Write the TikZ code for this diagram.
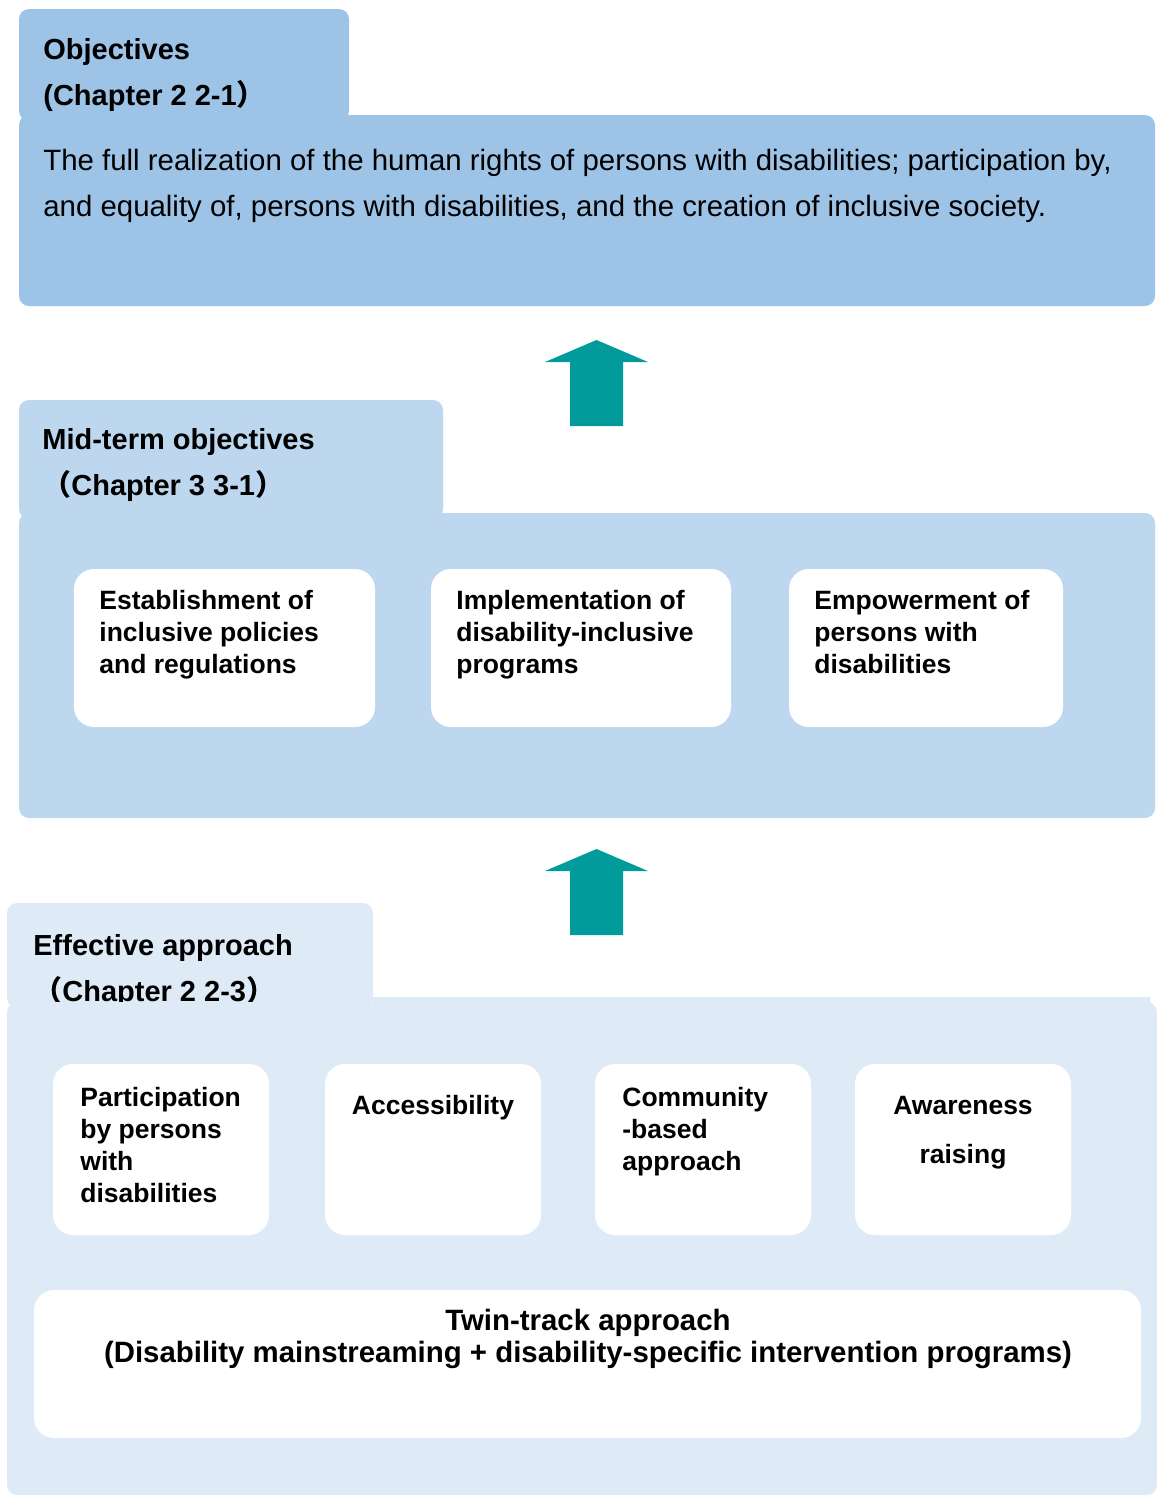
\documentclass[tikz,border=0pt]{standalone}
\usepackage{fontspec}
\setmainfont{Liberation Sans}
\newfontfamily\cjkfont{Noto Sans CJK JP}
\definecolor{objblue}{HTML}{9DC3E6}
\definecolor{midblue}{HTML}{BDD7EE}
\definecolor{effblue}{HTML}{DEEBF7}
\definecolor{arrowteal}{HTML}{009B9A}
\newcommand{\lpar}{{\cjkfont （}}
\newcommand{\rpar}{{\cjkfont ）}}
\begin{document}
\begin{tikzpicture}[x=0.5pt, y=-0.5pt,
        panel/.style={rounded corners=5pt},
        card/.style={fill=white, rounded corners=10pt},
        uparrow/.style={fill=arrowteal},
        head/.style={anchor=north west, inner sep=0pt, align=left,
            font=\fontsize{14.5}{23}\selectfont\bfseries},
        body/.style={anchor=north west, inner sep=0pt, align=left,
            font=\fontsize{14.7}{23}\selectfont},
        cardtext/.style={anchor=north west, inner sep=0pt, align=left,
            font=\fontsize{13.25}{16}\selectfont\bfseries},
        ]
        \useasboundingbox (0,0) rectangle (1157,1495);

        % objectives
        \fill[objblue, panel] (19,9) rectangle (349,121);
        \fill[objblue, panel] (19,115) rectangle (1155,306);
        \node (objhead) at (43,38) [head] {Objectives\\(Chapter 2 2-1\rpar};
        \node (objbody) at (43,149) [body] {The full realization of the human rights of persons with disabilities; participation by,\\and equality of, persons with disabilities, and the creation of inclusive society.};

        \fill[uparrow] (570,426) -- (570,362) -- (545,362) -- (596.5,340) -- (648,362) -- (623,362) -- (623,426) -- cycle;

        % mid-term objectives
        \fill[midblue, panel] (19,400) rectangle (443,519);
        \fill[midblue, panel] (19,513) rectangle (1155,818);
        \node (midhead) at (42,428) [head] {Mid-term objectives\\\lpar Chapter 3 3-1\rpar};
        \fill[card] (74,569) rectangle (375,727);
        \fill[card] (431,569) rectangle (731,727);
        \fill[card] (789,569) rectangle (1063,727);
        \node (policies) at (99,590) [cardtext] {Establishment of\\inclusive policies\\and regulations};
        \node (programs) at (456,590) [cardtext] {Implementation of\\disability-inclusive\\programs};
        \node (empower) at (814,590) [cardtext] {Empowerment of\\persons with\\disabilities};

        \fill[uparrow] (570,935) -- (570,871) -- (545,871) -- (596.5,849) -- (648,871) -- (623,871) -- (623,935) -- cycle;

        % effective approach
        \fill[effblue, panel] (7,903) rectangle (373,1008);
        \node (effhead) at (33,934) [head] {Effective approach\\\lpar Chapter 2 2-3\rpar};
        \fill[effblue, panel] (7,1002) rectangle (1157,1495);
        \fill[effblue] (373,997) rectangle (1150,1005);
        \fill[card] (53,1064) rectangle (269,1235);
        \fill[card] (325,1064) rectangle (541,1235);
        \fill[card] (595,1064) rectangle (811,1235);
        \fill[card] (855,1064) rectangle (1071,1235);
        \fill[card] (34,1290) rectangle (1141,1438);
        \node (particip) at (80,1087) [cardtext] {Participation\\by persons\\with\\disabilities};
        \node (access) at (433,1095) [cardtext, anchor=north] {Accessibility};
        \node (community) at (622,1087) [cardtext] {Community\\-based\\approach};
        \node (aware) at (963,1096) [cardtext, anchor=north, align=center,
            font=\fontsize{13.25}{24.5}\selectfont\bfseries] {Awareness\\raising};
        \node (twintrack) at (588,1309) [cardtext, anchor=north, align=center,
            font=\fontsize{14.7}{16}\selectfont\bfseries] {Twin-track approach\\(Disability mainstreaming + disability-specific intervention programs)};
    \end{tikzpicture}
\end{document}
